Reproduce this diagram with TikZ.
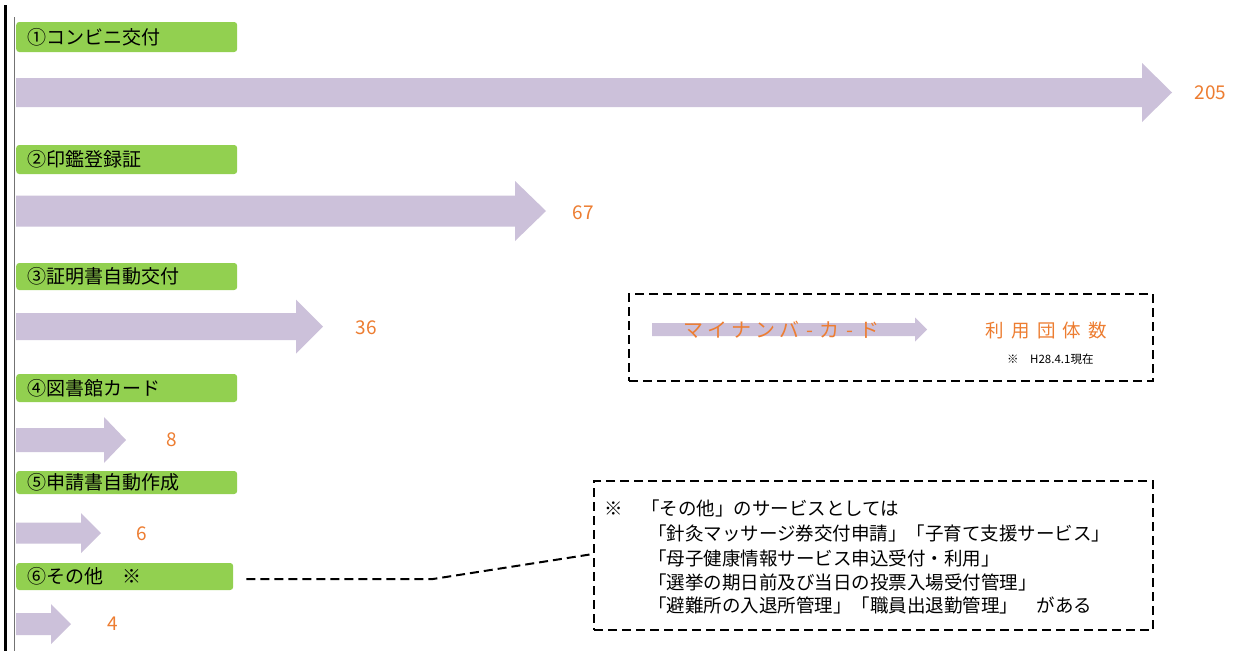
\documentclass[tikz,border=0pt]{standalone}
\usepackage{fontspec}
\setmainfont{Noto Sans CJK JP}
\definecolor{lblgreen}{HTML}{92D050}
\definecolor{arrowlav}{HTML}{CCC1DA}
\definecolor{numorange}{HTML}{ED7D31}
\newcommand\fatarrowdraw[6]{%
  \fill[arrowlav] (#1,#4-#5) -- (#2,#4-#5) -- (#2,#4-#6) -- (#3,#4) -- (#2,#4+#6) -- (#2,#4+#5) -- (#1,#4+#5) -- cycle;}
\newcommand\cbx[1]{\makebox[24pt]{#1}}
\newcommand\hbx[1]{\makebox[16pt]{#1}}
\tikzset{
  lbl/.style={fill=lblgreen, rounded corners=3pt, anchor=west, minimum width=221pt,
    text width=199pt, inner xsep=11pt, inner ysep=0pt, align=left,
    font=\fontsize{19}{19}\selectfont},
  num/.style={text=numorange, inner sep=0pt, font=\fontsize{19}{19}\selectfont},
  dashbox/.style={draw=black, line width=2pt, dash pattern=on 9pt off 5pt, inner sep=0pt},
  conn/.style={draw=black, line width=2pt, dash pattern=on 9pt off 5pt},
  notetext/.style={anchor=west, inner sep=0pt, font=\fontsize{18.5}{18.5}\selectfont}
}
\begin{document}
\begin{tikzpicture}[x=1pt,y=-1pt]
\useasboundingbox (0,0) rectangle (1243,651);
\fill[white] (0,0) rectangle (1243,651);
% left rules
\draw[line width=3pt, black] (5.8,5) -- (5.8,651);
\draw[line width=1.3pt, black!55] (14.3,17) -- (14.3,651);
% labels
\node[lbl, minimum height=30pt] (l1) at (16,37) {①コンビニ交付};
\node[lbl, minimum height=29pt] (l2) at (16,159.5) {②印鑑登録証};
\node[lbl, minimum height=27pt] (l3) at (16,276.5) {③証明書自動交付};
\node[lbl, minimum height=28pt] (l4) at (16,388) {④図書館カード};
\node[lbl, minimum height=23pt] (l5) at (16,482.5) {⑤申請書自動作成};
\node[lbl, minimum height=27pt, minimum width=217pt, text width=195pt] (l6) at (16,576.5) {⑥その他　※};
% arrows
\fatarrowdraw{16}{1142}{1172}{92.5}{14.5}{29.5}
\fatarrowdraw{16}{515}{546}{211}{15.5}{30}
\fatarrowdraw{16}{296}{323}{326.5}{13.5}{27}
\fatarrowdraw{16}{104}{126}{440}{12}{23}
\fatarrowdraw{16}{81}{101}{533}{10.5}{20}
\fatarrowdraw{16}{51}{71}{624}{11}{20}
% numbers
\node[num] (v1) at (1210.5,93) {205};
\node[num] (v2) at (583,213) {67};
\node[num] (v3) at (366,328) {36};
\node[num] (v4) at (171.5,440) {8};
\node[num] (v5) at (141.5,534) {6};
\node[num] (v6) at (112.5,624) {4};
% legend
\node[dashbox, minimum width=524pt, minimum height=87pt] (legend) at (891,337.5) {};
\fatarrowdraw{652}{915}{927}{329.5}{6.5}{12}
\node[anchor=west, inner sep=0pt, text=numorange,
  font=\fontsize{20}{20}\selectfont] (lgtext) at (681.5,329.5)
  {\cbx{マ}\cbx{イ}\cbx{ナ}\cbx{ン}\cbx{バ}\hbx{-}\cbx{カ}\hbx{-}\cbx{ド}};
\node[anchor=west, inner sep=0pt, text=numorange,
  font=\fontsize{18.5}{18.5}\selectfont\addfontfeature{LetterSpace=40}] (lgcount) at (985,331) {利用団体数};
\node[anchor=west, inner sep=0pt, font=\fontsize{11.5}{11.5}\selectfont] (lgdate) at (1007,359) {※　H28.4.1現在};
% note box
\node[dashbox, minimum width=559pt, minimum height=149pt] (note) at (873.5,555.5) {};
\node[notetext] (n1) at (604,508) {※　「その他」のサービスとしては};
\node[notetext] (n2) at (648,533) {「針灸マッサージ券交付申請」「子育て支援サービス」};
\node[notetext] (n3) at (648,558) {「母子健康情報サービス申込受付・利用」};
\node[notetext] (n4) at (648,582) {「選挙の期日前及び当日の投票入場受付管理」};
\node[notetext] (n5) at (648,605) {「避難所の入退所管理」「職員出退勤管理」　がある};
% connector
\coordinate (cbend) at (433,579);
\draw[conn] ([xshift=13pt,yshift=-2.5pt]l6.east) -- (cbend) -- ([yshift=1.5pt]note.west);
\end{tikzpicture}
\end{document}
